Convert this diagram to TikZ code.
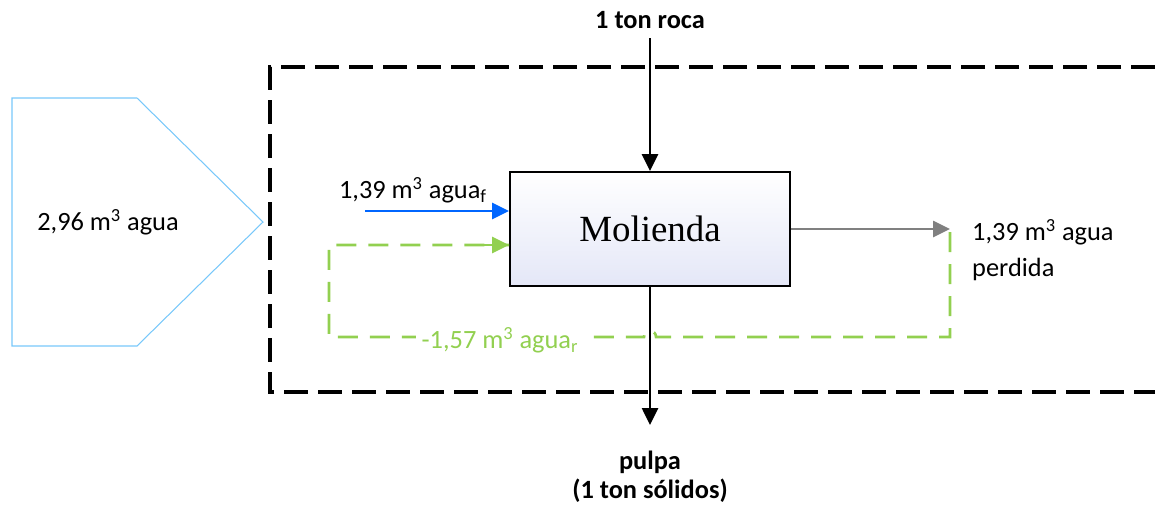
\documentclass[tikz,border=0pt]{standalone}
\usepackage{fontspec}
\setmainfont{Carlito}
\newfontfamily\molfont{Liberation Serif}
\usetikzlibrary{arrows.meta}

\definecolor{azulagua}{RGB}{0,102,255}
\definecolor{verdereciclo}{RGB}{146,208,80}
\definecolor{grisperdida}{RGB}{128,128,128}
\definecolor{celeste}{RGB}{120,200,250}
\definecolor{lavanda}{RGB}{228,231,247}

\begin{document}
\begin{tikzpicture}[x=0.2mm,y=-0.2mm,
    font=\fontsize{15}{18}\selectfont,
    flecha/.style={line width=1.5pt,-{Triangle[length=3.4mm,width=3.2mm]}},
    reciclo/.style={verdereciclo,line width=1.5pt,dash pattern=on 4mm off 2.4mm},
    molino/.style={draw,line width=1.1pt,shading angle=135,top color=white,bottom color=lavanda,
        minimum width=56mm,minimum height=22.8mm,font=\molfont\fontsize{21}{24}\selectfont}]
        \useasboundingbox (0,0) rectangle (1155,504);
        % limite del sistema
        \draw [black,line width=1.8pt,dash pattern=on 4.8mm off 2mm] (1155,67) -- (270,67) -- (270,392) -- (1155,392);
        % agua total
        \draw [celeste,line width=0.6pt] (12,98) -- (137,98) -- (263,222) -- (137,346) -- (12,346) -- cycle;
        \node (total) at (108,222) {2,96 m\textsuperscript{3} agua};
        % molino
        \node [molino] (mol) at (650,229) {Molienda};
        \coordinate (roca) at (650,38);
        \node [font=\bfseries\fontsize{15}{18}\selectfont] (rocatxt) at (650,20) {1 ton roca};
        \coordinate (pulpa) at (650,425);
        \node [font=\bfseries\fontsize{15}{16.5}\selectfont,align=center] (pulpatxt) at (650,477) {pulpa\\(1 ton sólidos)};
        % flujos de agua
        \coordinate (fresca) at (365,211);
        \coordinate (perdida) at (950,229);
        \coordinate (r1) at (950,232);
        \coordinate (r2) at (950,337);
        \coordinate (r3) at (329,337);
        \coordinate (r4) at (329,245);
        \draw [reciclo] (r1) -- (r2) -- (656,337) .. controls (656,329) and (644,329) .. (644,337) -- (r3) -- (r4) -- (mol.west |- r4);
        \draw [verdereciclo,line width=1.5pt,-{Triangle[length=3.4mm,width=3.2mm]}] (480,245) -- (mol.west |- r4);
        \draw [flecha] (roca) -- (mol.north);
        \draw [flecha] (mol.south) -- (pulpa);
        \draw [flecha,azulagua] (fresca) -- (mol.west |- fresca);
        \draw [flecha,grisperdida] (mol.east |- perdida) -- (perdida);
        \node (frescatxt) at (413,190) {1,39 m\textsuperscript{3} agua\textsubscript{f}};
        \node [anchor=west,align=left,font=\fontsize{15}{20}\selectfont] (perdidatxt) at (966,250) {1,39 m\textsuperscript{3} agua\\perdida};
        \node [text=verdereciclo,fill=white,inner xsep=3pt,inner ysep=1pt] (reciclotxt) at (500,340) {-1,57 m\textsuperscript{3} agua\textsubscript{r}};
\end{tikzpicture}
\end{document}
